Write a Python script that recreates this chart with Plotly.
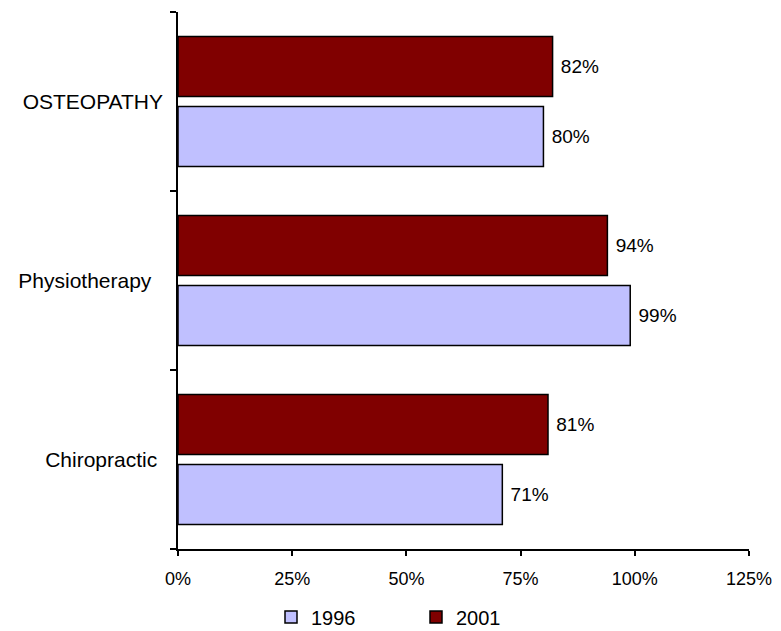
import plotly.graph_objects as go

categories = ["Chiropractic", "Physiotherapy", "OSTEOPATHY"]
category_labels = ["Chiropractic\u00a0", "Physiotherapy\u00a0\u00a0", "OSTEOPATHY"]
values_1996 = [0.71, 0.99, 0.80]
values_2001 = [0.81, 0.94, 0.82]
x_ticks = [0, 0.25, 0.5, 0.75, 1.0, 1.25]

FONT = "Arial, Liberation Sans, sans-serif"

fig = go.Figure()
for name, vals, color in [("1996", values_1996, "#C0C0FF"),
                          ("2001", values_2001, "#800000")]:
    fig.add_trace(go.Bar(
        name=name,
        y=categories,
        x=vals,
        orientation="h",
        marker=dict(color=color, line=dict(color="black", width=1.5)),
        text=["\u00a0" + f"{v:.0%}" for v in vals],
        textposition="outside",
        textfont=dict(family=FONT, size=19, color="black"),
        constraintext="none",
        cliponaxis=False,
    ))

fig.update_layout(
    width=781, height=631,
    margin=dict(l=178, r=32, t=12, b=82, autoexpand=False),
    paper_bgcolor="white", plot_bgcolor="white",
    barmode="group", bargap=0.218, bargroupgap=0.143,
    font=dict(family=FONT, color="black"),
    showlegend=True,
    legend=dict(
        orientation="h", xref="container", yref="container",
        x=416 / 781, xanchor="center", y=14 / 631, yanchor="middle",
        font=dict(family=FONT, size=20, color="black"),
        entrywidth=100, traceorder="normal",
    ),
)

fig.update_xaxes(
    range=[0, 1.25], tickvals=x_ticks, tickformat=".0%",
    showline=True, linecolor="black", linewidth=1.5,
    ticks="outside", ticklen=5, tickcolor="black", tickwidth=1.5,
    ticklabelstandoff=8,
    showgrid=False, zeroline=False,
    tickfont=dict(family=FONT, size=18, color="black"),
)
fig.update_yaxes(
    range=[-0.5, 2.5], tickvals=categories, ticktext=category_labels,
    tickson="boundaries",
    showline=True, linecolor="black", linewidth=1.5,
    ticks="outside", ticklen=6, tickcolor="black", tickwidth=1.5,
    ticklabelstandoff=9,
    showgrid=False, zeroline=False,
    tickfont=dict(family=FONT, size=21, color="black"),
)

fig.write_html("out.html")
